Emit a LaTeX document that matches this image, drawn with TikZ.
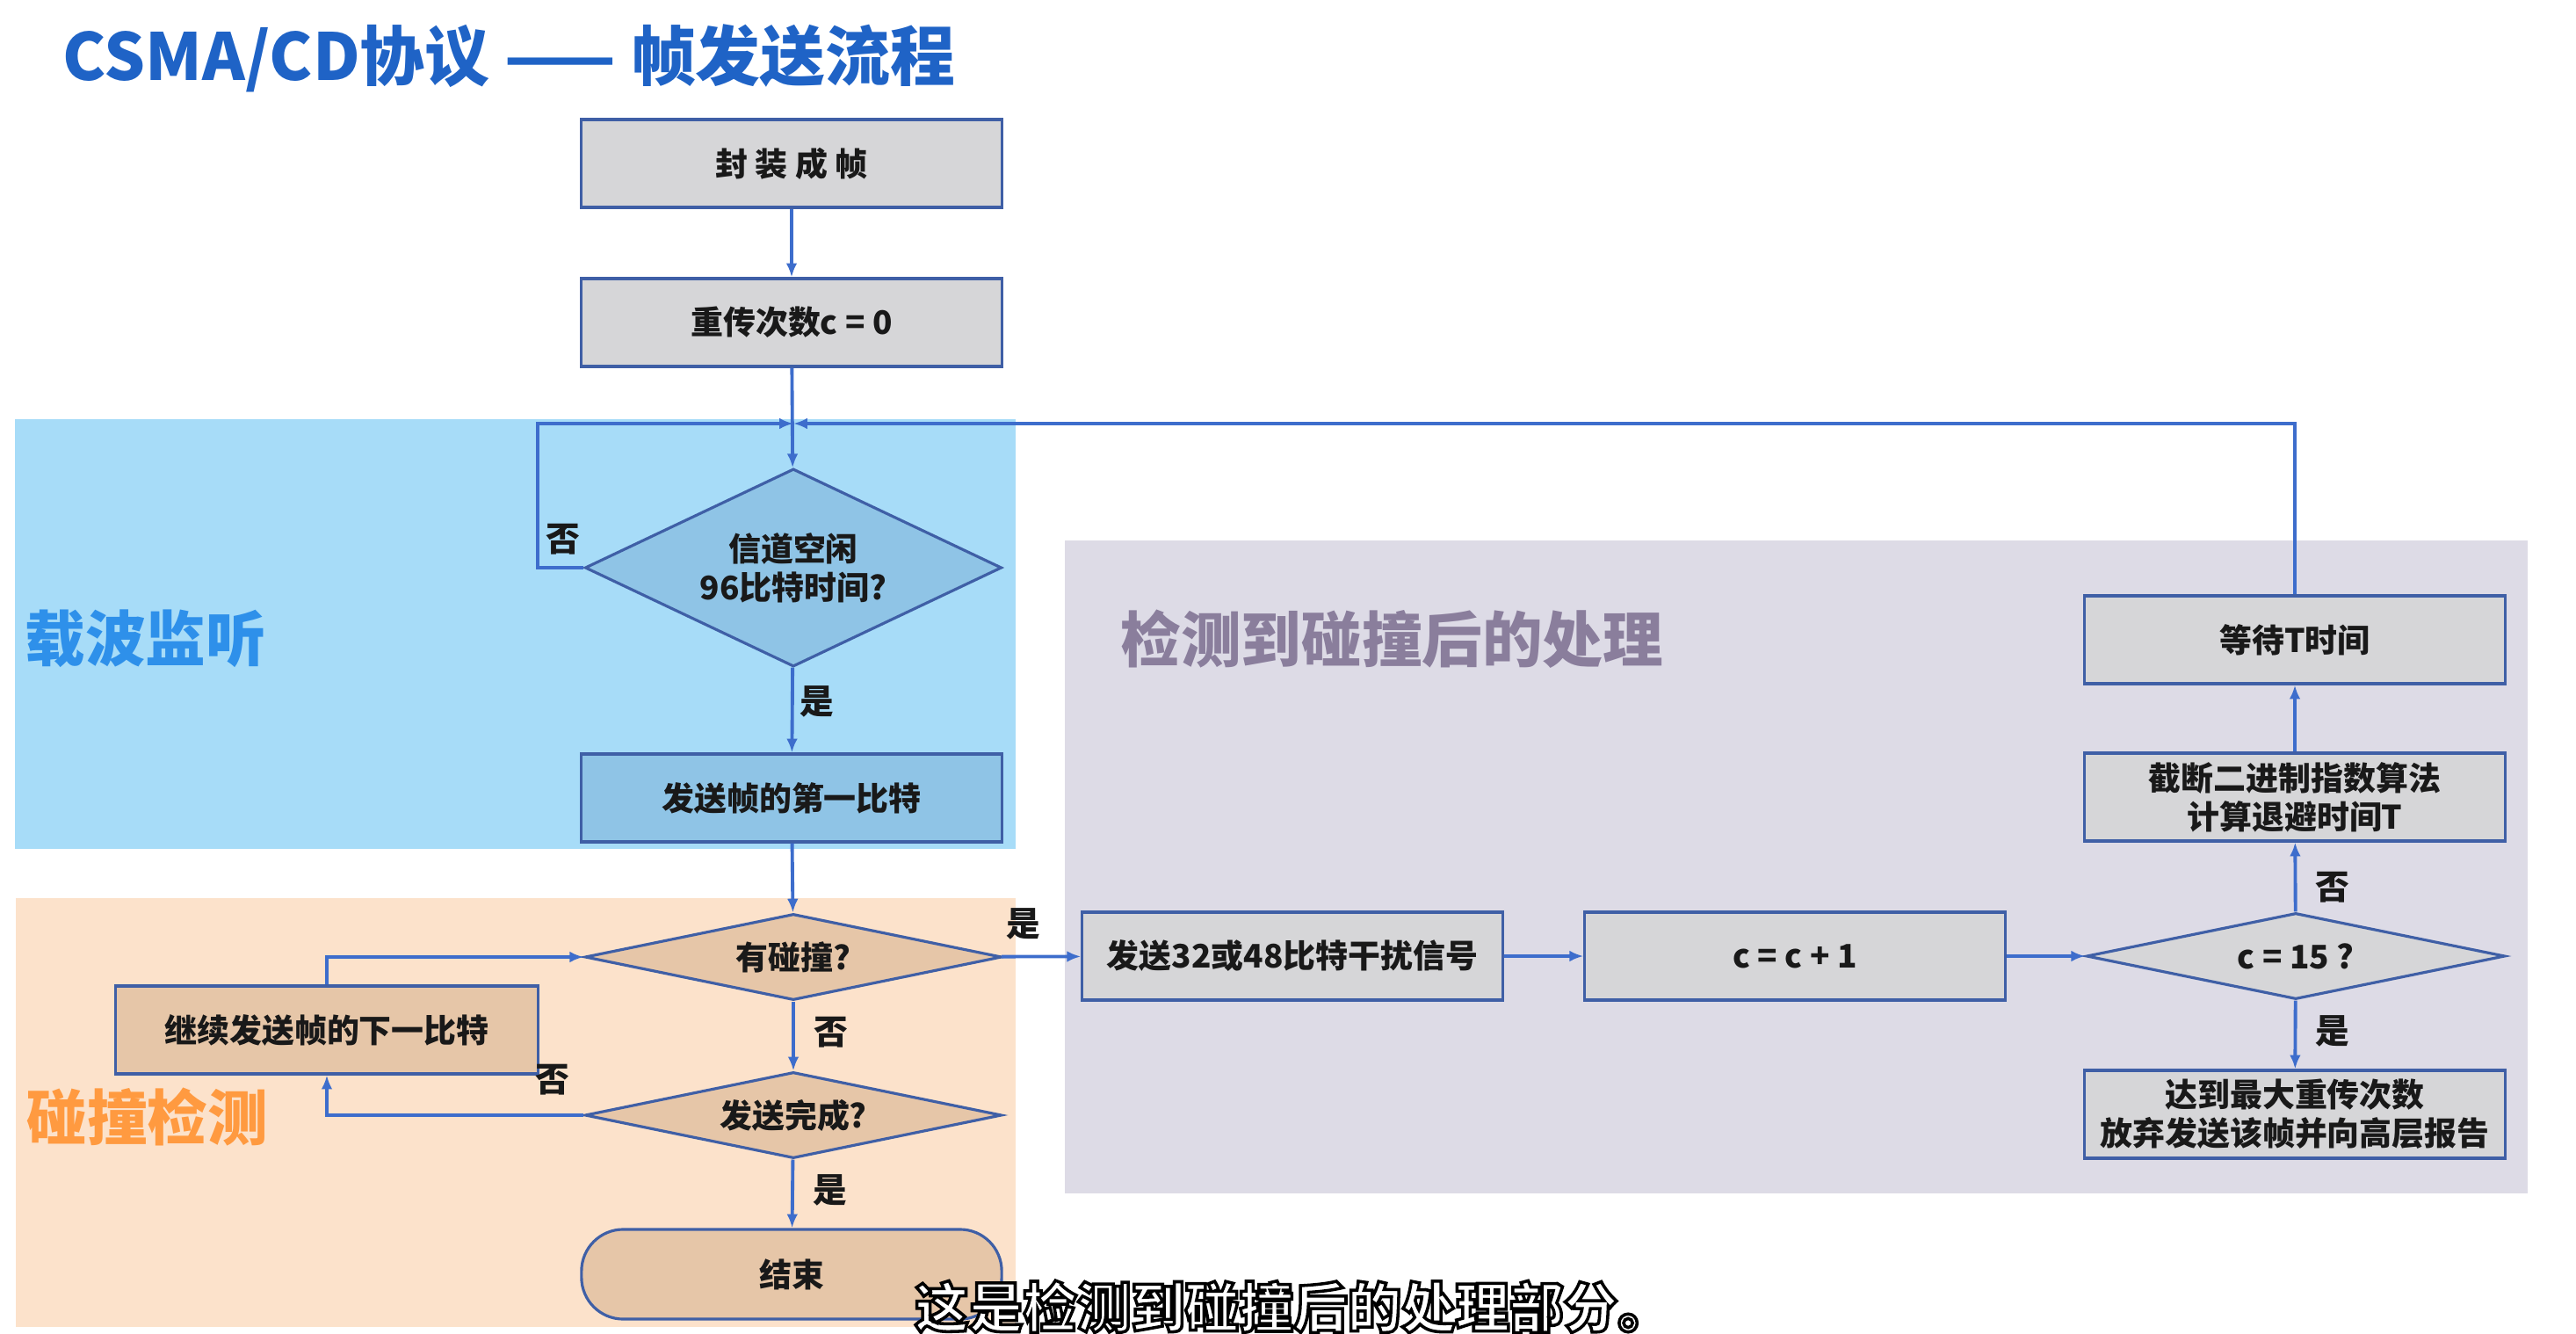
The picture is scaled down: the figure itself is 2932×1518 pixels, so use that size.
\documentclass[tikz,border=0pt]{standalone}
\usepackage{fontspec}
\setmainfont{Noto Sans CJK SC}
\usetikzlibrary{shapes.geometric,arrows.meta}
\definecolor{titleblue}{HTML}{1F63C6}
\definecolor{flowblue}{HTML}{3D6DCC}
\definecolor{edgeblue}{HTML}{3F5FA6}
\definecolor{skyzone}{HTML}{A7DCF8}
\definecolor{peachzone}{HTML}{FCE2CB}
\definecolor{lilaczone}{HTML}{DDDBE6}
\definecolor{skybox}{HTML}{8FC4E6}
\definecolor{tanbox}{HTML}{E6C6A8}
\definecolor{greybox}{HTML}{D6D6D8}
\definecolor{skytext}{HTML}{2E90EA}
\definecolor{peachtext}{HTML}{FF9A40}
\definecolor{lilactext}{HTML}{8A7E9C}
\newcommand{\outlined}[1]{\special{pdf:literal direct 0 G 2 Tr 1.0 w}#1\special{pdf:literal direct 0 Tr}}
\tikzset{
  proc/.style={draw=edgeblue,line width=0.9pt,minimum width=4.78cm,minimum height=1cm,
    inner sep=0pt,align=center,text=black!90,font=\bfseries\fontsize{10.5pt}{12.5pt}\selectfont},
  decide/.style={proc,diamond,minimum width=4.74cm,minimum height=0.98cm,aspect=4.8},
  flow/.style={draw=flowblue,line width=1.1pt,-{Latex[length=4.5pt,width=3.6pt]}},
  yesno/.style={font=\bfseries\fontsize{11pt}{13pt}\selectfont,text=black!90,inner sep=2pt},
  zonetitle/.style={anchor=west,inner sep=0pt,font=\bfseries\fontsize{19.5pt}{22pt}\selectfont},
  subline/.style={inner sep=0pt,text=white,font=\bfseries\fontsize{17.5pt}{20pt}\selectfont}
}
\begin{document}
\begin{tikzpicture}[x=0.01cm,y=-0.01cm]
  \useasboundingbox (0,0) rectangle (2932,1518);
  \fill[skyzone] (17,477) rectangle (1156,966);
  \fill[peachzone] (18,1022) rectangle (1156,1510);
  \fill[lilaczone] (1212,615) rectangle (2877,1358);
  \path
    (71,66) node[anchor=west,inner sep=0pt,text=titleblue,font=\bfseries\fontsize{21pt}{24pt}\selectfont] (title) {CSMA/CD协议 —— 帧发送流程}
    (28,727) node[zonetitle,text=skytext] (sense) {载波监听}
    (30,1271) node[zonetitle,text=peachtext] (detect) {碰撞检测}
    (1275,727) node[zonetitle,text=lilactext] (after) {检测到碰撞后的处理};
  \path
    (901,186) node[proc,fill=greybox] (frame) {封 装 成 帧}
    (901,367) node[proc,fill=greybox] (reset) {重传次数c = 0}
    (903,646) node[decide,fill=skybox,minimum height=2.25cm,aspect=2.1] (idle) {信道空闲\\96比特时间?}
    (901,908) node[proc,fill=skybox] (first) {发送帧的第一比特}
    (903,1089) node[decide,fill=tanbox] (coll) {有碰撞?}
    (903,1269) node[decide,fill=tanbox] (done) {发送完成?}
    (372,1172) node[proc,fill=tanbox,minimum width=4.8cm] (next) {继续发送帧的下一比特}
    (901,1450) node[proc,fill=tanbox,minimum height=1.02cm,rounded corners=13.5pt] (finish) {结束}
    (1471,1088) node[proc,fill=greybox] (jam) {发送32或48比特干扰信号}
    (2043,1088) node[proc,fill=greybox] (inc) {c = c + 1}
    (2613,1088) node[decide,fill=greybox,minimum width=4.76cm] (limit) {c = 15 ?}
    (2612,907) node[proc,fill=greybox] (backoff) {截断二进制指数算法\\计算退避时间T}
    (2612,728) node[proc,fill=greybox] (wait) {等待T时间}
    (2612,1268) node[proc,fill=greybox] (giveup) {达到最大重传次数\\放弃发送该帧并向高层报告};
  \coordinate (join) at (903,482);
  \begin{scope}[flow]
    \draw (frame) to (reset);
    \draw (reset) to (idle);
    \draw (idle.west) -- ++(-52,0) |- node[yesno,pos=0.1,anchor=west] {否} (join);
    \draw (idle) to node[yesno,pos=0.4,anchor=west] {是} (first);
    \draw (first) to (coll);
    \draw (coll) to node[yesno,pos=0.28,anchor=south,inner sep=5pt] {是} (jam);
    \draw (coll) to node[yesno,pos=0.45,anchor=west,inner sep=6pt] {否} (done);
    \draw (done) to node[yesno,pos=0.45,anchor=west,inner sep=6pt] {是} (finish);
    \draw (done.west) -| node[yesno,pos=0.06,anchor=south,inner sep=6pt] {否} (next.south);
    \draw (next.north) |- (coll.west);
    \draw (jam) to (inc);
    \draw (inc) to (limit);
    \draw (limit) to node[yesno,pos=0.35,anchor=west,inner sep=6pt] {否} (backoff);
    \draw (backoff) to (wait);
    \draw (wait.north) |- (join);
    \draw (limit) to node[yesno,pos=0.45,anchor=west,inner sep=6pt] {是} (giveup);
  \end{scope}
  \node[subline] (sub) at (1472,1487) {\outlined{这是检测到碰撞后的处理部分。}};
\end{tikzpicture}
\end{document}
